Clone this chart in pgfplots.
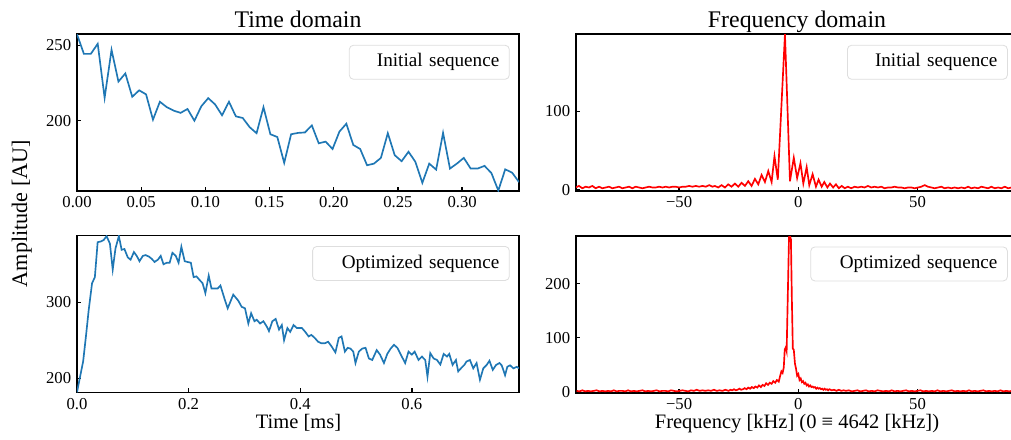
\documentclass[border=0pt]{standalone}
\usepackage{fontspec}
\setmainfont{Liberation Serif}
\usepackage{pgfplots}
\pgfplotsset{compat=1.18}
\definecolor{mplblue}{HTML}{1F77B4}

\pgfplotsset{
  panel/.style={
    scale only axis, width=265.2pt, height=94.2pt,
    anchor=north west,
    axis line style={line width=1.1pt},
    tick align=inside, xtick pos=bottom, ytick pos=left,
    major tick length=2.6pt,
    every tick/.style={black, line width=0.8pt},
    tick label style={font=\fontsize{10}{12}\selectfont},
    clip mode=individual,
  },
}
\tikzset{
  legbox/.style={draw=black!13, line width=0.5pt, rounded corners=2.5pt, fill=white,
    anchor=north east, inner ysep=0pt, inner xsep=6pt, minimum height=20.4pt,
    align=right, font=\fontsize{11.5}{13}\selectfont},
  ttl/.style={anchor=base, inner sep=0pt, font=\fontsize{14.3}{16}\selectfont},
  lbl/.style={anchor=base, inner sep=0pt, font=\fontsize{12.3}{14}\selectfont},
}

\begin{document}
\begin{tikzpicture}
\useasboundingbox (0pt,0pt) rectangle (606.6pt,-263.4pt);

% ---- time domain, initial sequence
\begin{axis}[panel, at={(46.2pt,-20.4pt)},
  xmin=0, xmax=0.3443, ymin=153.3, ymax=257.6,
  xtick={0,0.05,0.10,0.15,0.20,0.25,0.30},
  xticklabels={0.00,0.05,0.10,0.15,0.20,0.25,0.30},
  ytick={200,250}, yticklabels={200,250}]
\addplot[mplblue, line width=1pt] coordinates {
(0,257.4) (0.00538,244.4) (0.01076,244.4) (0.01614,251.1) (0.02152,215.2)
(0.0269,247.1) (0.03228,226.0) (0.03766,231.4) (0.04304,215.9) (0.04842,220.2)
(0.0538,217.5) (0.05918,200.7) (0.06456,212.6) (0.06994,209.0) (0.07532,206.7)
(0.0807,205.2) (0.08608,207.8) (0.09146,200.0) (0.09684,209.6) (0.10222,215.0)
(0.1076,210.8) (0.11298,203.6) (0.11836,212.6) (0.12374,202.9) (0.12912,201.8)
(0.1345,195.7) (0.13988,191.7) (0.14526,209.0) (0.15064,191.0) (0.15602,189.2)
(0.1614,172.0) (0.16678,191.0) (0.17216,191.9) (0.17754,192.2) (0.18292,196.9)
(0.1883,185.0) (0.19368,186.1) (0.19906,181.2) (0.20444,192.8) (0.20982,198.0)
(0.2152,183.9) (0.22058,181.2) (0.22596,170.4) (0.23134,171.5) (0.23672,175.3)
(0.2421,191.7) (0.24748,177.1) (0.25286,173.1) (0.25824,179.4) (0.26362,172.6)
(0.269,158.7) (0.27438,171.5) (0.27976,167.5) (0.28514,191.9) (0.29052,168.2)
(0.2959,171.5) (0.30128,175.3) (0.30666,168.2) (0.31204,168.2) (0.31742,170.0)
(0.3228,165.2) (0.32818,153.6) (0.33356,167.7) (0.33894,165.5) (0.34432,159.2)
};
\node[legbox, text width=84pt] at (rel axis cs:0.979,0.931) {Initial sequence};
\end{axis}

% ---- time domain, optimized sequence
\begin{axis}[panel, at={(46.2pt,-141.3pt)},
  xmin=0, xmax=0.792, ymin=181.2, ymax=387.8,
  xtick={0,0.2,0.4,0.6}, xticklabels={0.0,0.2,0.4,0.6},
  ytick={200,300}, yticklabels={200,300}]
\addplot[mplblue, line width=1pt] coordinates {
(0,181.5) (0.005,200) (0.011,222) (0.016,255) (0.021,290) (0.027,325) (0.032,333)
(0.037,379) (0.043,380) (0.048,382) (0.053,387) (0.059,377) (0.064,343) (0.069,371)
(0.075,387) (0.080,369) (0.085,370) (0.091,359) (0.096,356) (0.102,366) (0.107,361)
(0.112,354) (0.118,361) (0.123,362) (0.129,360) (0.134,357) (0.139,353) (0.145,356)
(0.150,361) (0.155,350) (0.161,352) (0.166,352) (0.171,365) (0.177,361) (0.182,352)
(0.187,373) (0.193,354) (0.198,353) (0.204,352) (0.209,333) (0.214,334) (0.220,329)
(0.225,325) (0.230,312) (0.236,335) (0.241,318) (0.246,318) (0.252,318) (0.257,322)
(0.265,303) (0.270,292) (0.280,310) (0.289,302) (0.295,294) (0.301,292) (0.307,272)
(0.312,285.5) (0.318,275) (0.322,277) (0.328,272) (0.334,275) (0.340,268) (0.344,262)
(0.350,275) (0.356,278) (0.362,264) (0.367,270) (0.371,250) (0.377,266) (0.382,261)
(0.388,270) (0.394,266) (0.403,266) (0.409,261) (0.415,255) (0.420,257) (0.426,253)
(0.432,248) (0.438,246) (0.444,246) (0.450,248) (0.456,242) (0.463,234) (0.469,253)
(0.474,255) (0.480,235) (0.485,240) (0.490,239) (0.495,235) (0.499,220) (0.505,235)
(0.511,239) (0.517,240) (0.523,226) (0.529,224) (0.537,237) (0.543,231) (0.550,220)
(0.556,232) (0.562,239) (0.568,244) (0.574,240) (0.582,228.5) (0.588,220) (0.594,235)
(0.600,231) (0.605,235) (0.612,224) (0.618,228.5) (0.624,224) (0.628,202) (0.633,233)
(0.639,226) (0.645,224) (0.651,218) (0.657,232) (0.663,228.5) (0.667,232) (0.673,217.5)
(0.679,224) (0.683,209) (0.688,213) (0.694,217.5) (0.698,222) (0.704,224) (0.710,213)
(0.716,220) (0.722,198) (0.728,213) (0.734,217.5) (0.739,223) (0.745,211) (0.751,217.5)
(0.757,220) (0.761,217) (0.767,204) (0.771,215) (0.776,217) (0.782,213) (0.788,215)
(0.792,213)
};
\node[legbox, text width=106pt] at (rel axis cs:0.979,0.933) {Optimized sequence};
\end{axis}

% ---- frequency domain, initial sequence
\begin{axis}[panel, at={(345.6pt,-20.4pt)},
  xmin=-93.25, xmax=92.15, ymin=-1.5, ymax=199,
  xtick={-50,0,50}, xticklabels={−50,0,50},
  ytick={0,100}, yticklabels={0,100}]
\addplot[red, line width=1pt] coordinates {
(-93.4,3) (-92.0,5) (-90.6,2) (-89.2,4) (-87.8,3) (-86.4,5) (-85.0,2) (-83.6,4)
(-82.2,2) (-80.8,3) (-79.4,4) (-78.0,2) (-76.6,3) (-75.2,4) (-73.8,2) (-72.4,3)
(-71.0,4) (-69.6,2) (-68.2,4) (-66.8,3) (-65.4,2) (-64.0,3) (-62.6,4) (-61.2,3)
(-59.8,3) (-58.4,4) (-57.0,3) (-55.6,4) (-54.2,3) (-52.8,4) (-51.4,4) (-50.0,3)
(-48.6,4) (-47.2,4) (-45.8,5) (-44.4,4) (-43.0,5) (-41.6,4) (-40.2,5) (-38.8,4)
(-37.4,6) (-36.0,4)
(-35.0,5) (-33.6,3) (-32.2,6) (-30.8,3) (-29.4,7) (-28.0,4) (-26.6,8) (-25.2,4)
(-23.8,9) (-22.4,5) (-21.0,11) (-19.6,5) (-18.2,14) (-16.8,7) (-15.4,19) (-14.0,10)
(-12.6,24) (-11.2,10) (-10.0,43) (-8.6,13) (-5.6,199) (-3.5,11) (-1.9,41) (-0.5,15)
(0.9,34) (2.1,8) (3.5,29) (4.6,6) (6.0,20) (7.4,4) (8.5,13) (9.8,4) (10.9,10)
(12.2,3) (13.3,8) (14.6,3) (15.8,7) (17.0,2) (18.2,5) (19.5,2) (20.8,4)
(22.2,2) (23.6,4) (25.0,3) (26.4,4) (27.8,3) (29.2,5) (30.6,3) (32.0,4) (33.4,3)
(34.8,4) (36.2,2) (37.6,3) (39.0,3) (40.4,4) (41.8,3) (43.2,3) (44.6,2) (46.0,3)
(47.4,3) (48.8,2) (50.2,3) (51.6,4) (53.0,6) (54.4,4) (55.8,3) (57.2,2) (58.6,3)
(60.0,4) (61.4,2) (62.8,3) (64.2,2) (65.6,3) (67.0,2) (68.4,3) (69.8,2) (71.2,4)
(72.6,2) (74.0,3) (75.4,2) (76.8,4) (78.2,3) (79.6,2) (81.0,4) (82.4,2) (83.8,3)
(85.2,2) (86.6,4) (88.0,2) (89.4,3) (90.8,2) (92.2,3)
};
\node[legbox, text width=84pt] at (rel axis cs:0.977,0.931) {Initial sequence};
\end{axis}

% ---- frequency domain, optimized sequence
\begin{axis}[panel, at={(345.6pt,-141.6pt)},
  xmin=-93.25, xmax=92.15, ymin=-2, ymax=288,
  xtick={-50,0,50}, xticklabels={−50,0,50},
  ytick={0,100,200}, yticklabels={0,100,200}]
\addplot[red, line width=1pt] coordinates {
(-93.0,2) (-91.8,1) (-90.6,3) (-89.4,1) (-88.2,2) (-87.0,1) (-85.8,2) (-84.6,3)
(-83.4,1) (-82.2,2) (-81.0,1) (-79.8,2) (-78.6,1) (-77.4,3) (-76.2,1) (-75.0,2)
(-73.8,2) (-72.6,1) (-71.4,3) (-70.2,1) (-69.0,2) (-67.8,1) (-66.6,2) (-65.4,3)
(-64.2,1) (-63.0,2) (-61.8,1) (-60.6,2) (-59.4,3) (-58.2,1) (-57.0,2) (-55.8,2)
(-54.6,1) (-53.4,3) (-52.2,2) (-51.0,1) (-49.8,2) (-48.6,3) (-47.4,2) (-46.2,1)
(-45.0,3) (-43.8,2) (-42.6,4) (-41.4,2) (-40.2,3) (-39.0,2) (-37.8,3) (-36.6,2)
(-35.4,4) (-34.2,2) (-33.0,3) (-31.8,2) (-30.6,4)
(-30.0,3) (-29.2,2) (-28.5,4) (-27.7,3) (-27.0,5) (-26.2,3) (-25.5,4) (-24.7,6)
(-24.0,4) (-23.2,5) (-22.5,7) (-21.7,5) (-21.0,8) (-20.2,6) (-19.5,9) (-18.7,7)
(-18.0,10) (-17.2,8) (-16.5,12) (-15.7,9) (-15.0,13) (-14.2,11) (-13.5,16) (-12.7,13)
(-12.0,17) (-11.2,15) (-10.5,20) (-9.7,17) (-9.0,22) (-8.2,19) (-7.6,30) (-7.1,38)
(-6.6,35) (-6.1,45) (-5.7,78) (-5.3,82) (-4.9,75) (-4.4,180) (-3.9,286) (-3.5,288)
(-3.1,282) (-2.7,170) (-2.3,80) (-1.9,78) (-1.4,52) (-1.0,44) (-0.5,30) (0.0,33)
(0.5,22) (1.0,25) (1.5,18) (2.0,20) (2.5,15) (3.0,17) (3.5,12) (4.0,14) (4.5,10)
(5.0,12) (5.5,9) (6.0,10) (6.5,8) (7.0,9) (7.5,6) (8.0,8) (8.5,6) (9.0,7) (9.5,5)
(10.0,6) (10.5,4) (11.0,6) (11.5,4) (12.0,5) (12.5,3) (13.0,5) (14.0,3) (15.0,4)
(16.0,2) (17.0,4) (18.0,2) (19.0,3) (20.0,2)
(21.2,3) (22.4,1) (23.6,2) (24.8,3) (26.0,1) (27.2,2) (28.4,3) (29.6,1) (30.8,2)
(32.0,1) (33.2,3) (34.4,2) (35.6,1) (36.8,2) (38.0,1) (39.2,3) (40.4,1) (41.6,2)
(42.8,1) (44.0,2) (45.2,3) (46.4,1) (47.6,2) (48.8,1) (50.0,2) (51.2,3) (52.4,1)
(53.6,2) (54.8,1) (56.0,2) (57.2,1) (58.4,3) (59.6,1) (60.8,2) (62.0,1) (63.2,2)
(64.4,3) (65.6,1) (66.8,2) (68.0,1) (69.2,2) (70.4,1) (71.6,3) (72.8,1) (74.0,2)
(75.2,1) (76.4,2) (77.6,3) (78.8,1) (80.0,2) (81.2,1) (82.4,2) (83.6,1) (84.8,3)
(86.0,1) (87.2,2) (88.4,1) (89.6,2) (90.8,1) (92.0,2)
};
\node[legbox, text width=106pt] at (rel axis cs:0.977,0.933) {Optimized sequence};
\end{axis}

% ---- titles and labels
\node[ttl] at (178.8pt,-16.4pt) {Time domain};
\node[ttl] at (478.2pt,-16.4pt) {Frequency domain};
\node[lbl] at (179.1pt,-257.1pt) {Time [ms]};
\node[lbl] at (478.2pt,-257.1pt) {Frequency [kHz] (0 ≡ 4642 [kHz])};
\node[anchor=base, rotate=90, inner sep=0pt, font=\fontsize{13.3}{15}\selectfont] at (16.2pt,-128.1pt) {Amplitude [AU]};
\end{tikzpicture}
\end{document}
